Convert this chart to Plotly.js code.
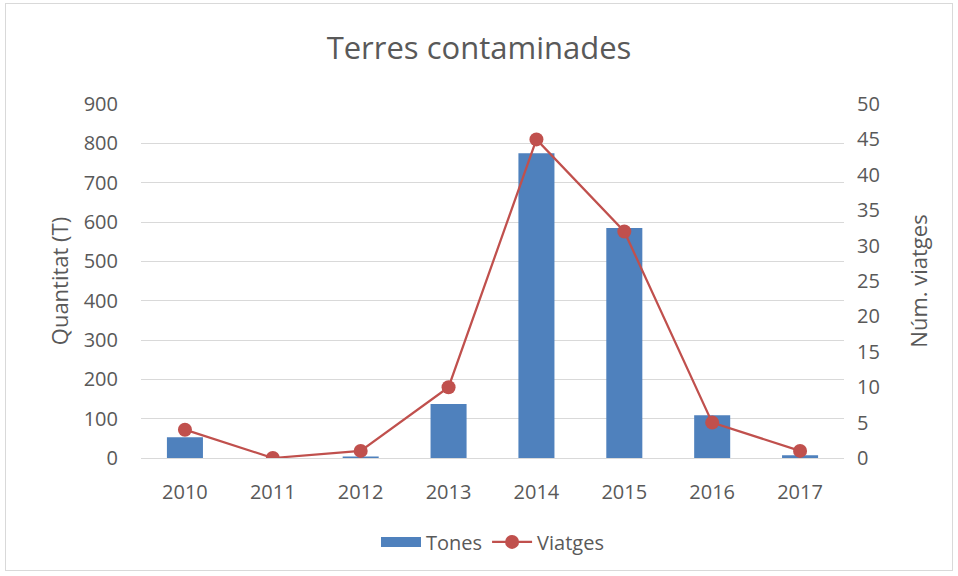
<!DOCTYPE html>
<html>
<head>
<meta charset="utf-8">
<script src="https://cdn.plot.ly/plotly-3.0.1.min.js"></script>
<style>
  html, body { margin: 0; padding: 0; background: #ffffff; }
  #wrap { position: relative; width: 958px; height: 576px; }
  #frame { position: absolute; left: 5px; top: 3px; width: 948px; height: 568px; border: 1px solid #d9d9d9; box-sizing: border-box; pointer-events: none; }
  #chart { position: absolute; left: 0; top: 0; width: 958px; height: 576px; }
</style>
</head>
<body>
<div id="wrap">
  <div id="chart"></div>
  <div id="frame"></div>
</div>
<script>
const years = ['2010', '2011', '2012', '2013', '2014', '2015', '2016', '2017'];
const tones = [53, 0, 4, 137, 775, 585, 109, 7];
const viatges = [4, 0, 1, 10, 45, 32, 5, 1];
const leftTicks = [0, 100, 200, 300, 400, 500, 600, 700, 800, 900];
const rightTicks = [0, 5, 10, 15, 20, 25, 30, 35, 40, 45, 50];

const fontFam = 'Open Sans, Noto Sans, sans-serif';
const grey = '#595959';
const blue = '#4f81bd';
const red = '#c0504d';

const traces = [
  {
    type: 'bar', name: 'Tones', x: years, y: tones, showlegend: false,
    marker: { color: blue }, width: 0.41
  },
  {
    // legend entry for the bars (wide rectangle like the original)
    type: 'scatter', mode: 'lines', name: 'Tones', x: [null], y: [null],
    line: { color: blue, width: 10 }, hoverinfo: 'skip'
  },
  {
    type: 'scatter', mode: 'lines+markers', name: 'Viatges', x: years, y: viatges, yaxis: 'y2',
    line: { color: red, width: 2.25 },
    marker: { color: red, size: 14 }
  }
];

const layout = {
  width: 958, height: 576,
  margin: { l: 141, r: 114, t: 104, b: 118 },
  paper_bgcolor: 'rgba(0,0,0,0)', plot_bgcolor: '#ffffff',
  font: { family: fontFam, color: grey, size: 20 },
  title: { text: 'Terres contaminades', font: { family: fontFam, size: 31, color: grey }, x: 0.5, xanchor: 'center', y: 0.917, yanchor: 'middle' },
  showlegend: true,
  legend: { orientation: 'h', x: 0.5, xanchor: 'center', y: -0.237, yanchor: 'middle', font: { size: 20, color: grey }, itemwidth: 40 },
  xaxis: {
    type: 'category', range: [-0.5, 7.5], showgrid: false, showline: false, zeroline: false,
    ticks: '', ticklabelstandoff: 20, tickfont: { size: 20, color: grey }
  },
  yaxis: {
    range: [0, 900], tickvals: leftTicks, showgrid: true, gridcolor: '#d9d9d9', gridwidth: 1,
    zeroline: true, zerolinecolor: '#d9d9d9', showline: false, ticks: '', ticklabelstandoff: 22,
    tickfont: { size: 20, color: grey },
    title: { text: 'Quantitat (T)', font: { size: 22, color: grey }, standoff: 8 }
  },
  yaxis2: {
    overlaying: 'y', side: 'right', range: [0, 50], tickvals: rightTicks, showgrid: false,
    zeroline: false, showline: false, ticks: '', ticklabelstandoff: 12,
    tickfont: { size: 20, color: grey },
    title: { text: 'Núm. viatges', font: { size: 22, color: grey }, standoff: 32 }
  }
};

Plotly.newPlot('chart', traces, layout, { staticPlot: true, displayModeBar: false });
</script>
</body>
</html>
